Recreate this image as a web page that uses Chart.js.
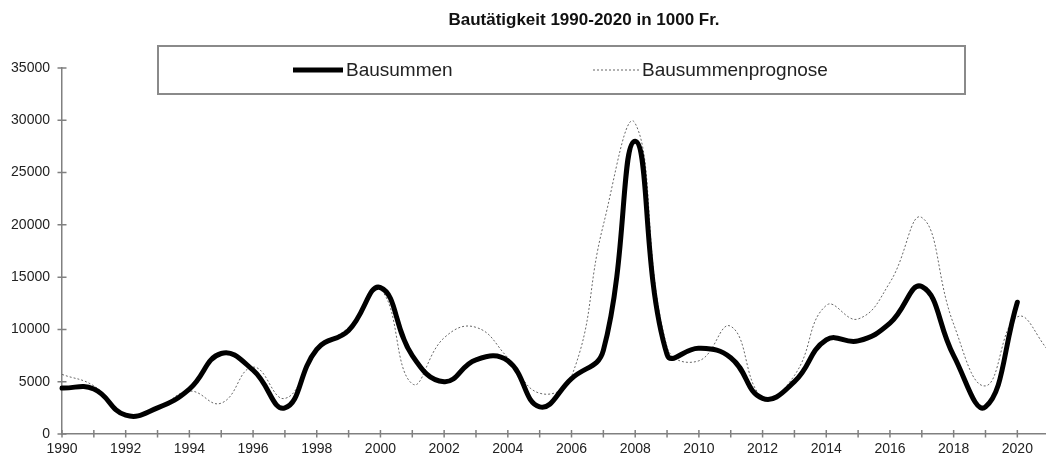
<!DOCTYPE html>
<html lang="de">
<head>
<meta charset="utf-8">
<title>Bautätigkeit 1990-2020</title>
<script src="https://cdn.jsdelivr.net/npm/chart.js@4.4.1/dist/chart.umd.min.js"></script>
<style>
  html, body { margin: 0; padding: 0; background: #fff; }
</style>
</head>
<body>
<canvas id="grafik" width="1046" height="455"></canvas>
<script>
// Daten (in 1000 Fr.)
const jahre = [1990, 1991, 1992, 1993, 1994, 1995, 1996, 1997, 1998, 1999,
               2000, 2001, 2002, 2003, 2004, 2005, 2006, 2007, 2008, 2009,
               2010, 2011, 2012, 2013, 2014, 2015, 2016, 2017, 2018, 2019,
               2020, 2021];
const bausummen = [4400, 4300, 1800, 2500, 4300, 7700, 6100, 2500, 8100, 9900,
                   14000, 7500, 5000, 7100, 7000, 2600, 5300, 8000, 28000, 7600,
                   8200, 7300, 3400, 5000, 9000, 8900, 10600, 14100, 7500, 2600,
                   12600];
const prognose = [5700, 4600, 1900, 2500, 4100, 2950, 6400, 3400, 8000, 10200,
                  13800, 4800, 9200, 10200, 7300, 3900, 5500, 20000, 29700, 8300,
                  7000, 10300, 3500, 5600, 12300, 11000, 14500, 20700, 10500, 4600,
                  11200, 7900];
const titel = 'Bautätigkeit 1990-2020 in 1000 Fr.';

const schrift = '"Liberation Sans", Arial, sans-serif';
const achsenFarbe = '#808080';

// Werte mit den Jahren zu Punkten verbinden
function punkte(werte) {
    return werte.map((v, i) => ({ x: jahre[i], y: v }));
}

// Striche, die die Achsen kreuzen (wie im Original)
const achsenStriche = {
    id: 'achsenStriche',
    beforeDatasetsDraw(chart) {
        const ctx = chart.ctx;
        const sx = chart.scales.x;
        const sy = chart.scales.y;
        ctx.save();
        ctx.strokeStyle = achsenFarbe;
        ctx.lineWidth = 1.5;
        ctx.beginPath();
        sx.ticks.forEach((t, i) => {
            const px = sx.getPixelForTick(i);
            ctx.moveTo(px, sy.bottom - 4);
            ctx.lineTo(px, sy.bottom + 3.5);
        });
        sy.ticks.forEach((t, i) => {
            const py = sy.getPixelForTick(i);
            ctx.moveTo(sx.left - 4.5, py);
            ctx.lineTo(sx.left + 4.5, py);
        });
        ctx.stroke();
        ctx.restore();
    }
};

// Titel und Legende mit Rahmen, die Legende liegt über der Zeichenfläche
const titelUndLegende = {
    id: 'titelUndLegende',
    afterDraw(chart) {
        const ctx = chart.ctx;
        ctx.save();
        ctx.fillStyle = '#111';
        ctx.font = 'bold 17px ' + schrift;
        ctx.textAlign = 'center';
        ctx.textBaseline = 'middle';
        ctx.fillText(titel, 584, 20);

        ctx.fillStyle = '#fff';
        ctx.fillRect(158, 46, 807, 48);
        ctx.strokeStyle = '#8a8a8a';
        ctx.lineWidth = 2;
        ctx.strokeRect(158, 46, 807, 48);

        const eintraege = [
            { ds: chart.data.datasets[0], x1: 293, x2: 343 },
            { ds: chart.data.datasets[1], x1: 593, x2: 639 }
        ];
        ctx.font = '19px ' + schrift;
        ctx.textAlign = 'left';
        eintraege.forEach(e => {
            ctx.beginPath();
            ctx.strokeStyle = e.ds.borderColor;
            ctx.lineWidth = e.ds.borderWidth;
            ctx.setLineDash(e.ds.borderDash || []);
            ctx.moveTo(e.x1, 70);
            ctx.lineTo(e.x2, 70);
            ctx.stroke();
            ctx.setLineDash([]);
            ctx.fillStyle = '#222';
            ctx.fillText(e.ds.label, e.x2 + 3, 71);
        });
        ctx.restore();
    }
};

const ctx = document.getElementById('grafik').getContext('2d');
new Chart(ctx, {
    type: 'line',
    data: {
        datasets: [{
            label: 'Bausummen',
            data: punkte(bausummen),
            borderColor: '#000',
            borderWidth: 5,
            borderCapStyle: 'round',
            pointRadius: 0,
            tension: 0.45,
            fill: false,
            clip: false
        }, {
            label: 'Bausummenprognose',
            data: punkte(prognose),
            borderColor: '#666',
            borderWidth: 1,
            borderDash: [2, 2],
            pointRadius: 0,
            tension: 0.45,
            fill: false
        }]
    },
    options: {
        responsive: false,
        animation: false,
        devicePixelRatio: 1,
        layout: { padding: { top: 68, left: 0, right: 0, bottom: 0 } },
        plugins: {
            legend: { display: false },
            title: { display: false },
            tooltip: { enabled: false }
        },
        scales: {
            x: {
                type: 'linear',
                min: 1990,
                max: 2020.9,
                grid: { display: false, drawTicks: false },
                border: { color: achsenFarbe, width: 1.5 },
                ticks: {
                    stepSize: 1,
                    maxTicksLimit: 40,
                    includeBounds: false,
                    autoSkip: false,
                    maxRotation: 0,
                    padding: 7,
                    color: '#222',
                    font: { family: schrift, size: 14 },
                    callback: v => (v % 2 === 0 ? String(v) : '')
                },
                afterFit(s) { s.height = 21; }
            },
            y: {
                min: 0,
                max: 35000,
                grid: { display: false, drawTicks: false },
                border: { color: achsenFarbe, width: 1.5 },
                ticks: {
                    stepSize: 5000,
                    padding: 12,
                    color: '#222',
                    font: { family: schrift, size: 14 },
                    callback: v => String(v)
                },
                afterFit(s) { s.width = 62; }
            }
        }
    },
    plugins: [achsenStriche, titelUndLegende]
});
</script>
</body>
</html>
